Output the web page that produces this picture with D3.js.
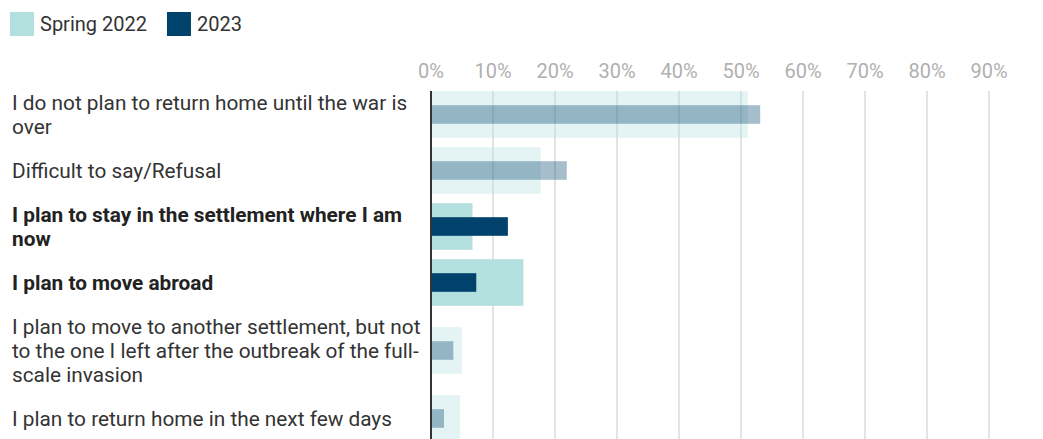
<!DOCTYPE html>
<html>
<head>
<meta charset="utf-8">
<script src="https://cdn.jsdelivr.net/npm/d3@7"></script>
<style>
  body { margin: 0; background: #fff; }
  text { font-family: Roboto, "Noto Sans", sans-serif; }
</style>
</head>
<body>
<svg id="chart" width="1043" height="439"></svg>
<script>
// answers, one entry per row (line breaks as in the original layout)
const categories = [
  "I do not plan to return home until the war is\nover",
  "Difficult to say/Refusal",
  "I plan to stay in the settlement where I am\nnow",
  "I plan to move abroad",
  "I plan to move to another settlement, but not\nto the one I left after the outbreak of the full-\nscale invasion",
  "I plan to return home in the next few days"
];
const spring2022 = [51.1, 17.7, 6.7, 14.9, 5.0, 4.7];
const year2023 = [53.1, 21.9, 12.4, 7.3, 3.6, 2.1];
const highlighted = [false, false, true, true, false, false];
const tickValues = [0, 10, 20, 30, 40, 50, 60, 70, 80, 90];
const seriesNames = ["Spring 2022", "2023"];
const seriesColors = ["#b3dfdf", "#00426b"];

const width = 1043, height = 439;
const svg = d3.select("#chart");

// row layout: each row as tall as its label or the bar block
const lineH = 24, blockH = 47, gap = 8.5, top0 = 90.5;
const centers = [];
let cur = top0;
categories.forEach(c => {
  const h = Math.max(blockH, c.split("\n").length * lineH);
  centers.push(cur + h / 2);
  cur += h + gap;
});

const x = d3.scaleLinear().domain([0, 100]).range([431, 1051]);
const y = d3.scaleOrdinal().domain(categories).range(centers);
const color = d3.scaleOrdinal().domain(seriesNames).range(seriesColors);

// legend
const legend = svg.append("g");
let lx = 10;
seriesNames.forEach(name => {
  legend.append("rect").attr("x", lx).attr("y", 12).attr("width", 24).attr("height", 24)
    .attr("fill", color(name));
  const t = legend.append("text").attr("x", lx + 30).attr("y", 31)
    .attr("font-size", 20).attr("fill", "#333").text(name);
  lx += 30 + t.node().getComputedTextLength() + 20;
});

// gridlines + tick labels
const gridTop = 91;
svg.append("g").selectAll("line").data(tickValues.slice(1)).join("line")
  .attr("x1", d => x(d)).attr("x2", d => x(d))
  .attr("y1", gridTop).attr("y2", height)
  .attr("stroke", "#e3e3e3").attr("stroke-width", 2);

svg.append("g").selectAll("text").data(tickValues).join("text")
  .attr("x", d => x(d)).attr("y", 78)
  .attr("text-anchor", "middle").attr("font-size", 20).attr("fill", "#b0b0b0")
  .text(d => d + "%");

// bars
const rows = categories.map((c, i) => ({ c, s: spring2022[i], v: year2023[i], hl: highlighted[i] }));
const bars = svg.append("g");
bars.selectAll("rect.spring").data(rows).join("rect").attr("class", "spring")
  .attr("x", x(0)).attr("y", d => y(d.c) - 23.3)
  .attr("width", d => x(d.s) - x(0)).attr("height", 46.6)
  .attr("fill", color(seriesNames[0])).attr("opacity", d => d.hl ? 1 : 0.35);
bars.selectAll("rect.y2023").data(rows).join("rect").attr("class", "y2023")
  .attr("x", x(0)).attr("y", d => y(d.c) - 9.3)
  .attr("width", d => x(d.v) - x(0)).attr("height", 18.6)
  .attr("fill", color(seriesNames[1])).attr("opacity", d => d.hl ? 1 : 0.35);

// baseline
svg.append("line").attr("x1", x(0)).attr("x2", x(0)).attr("y1", gridTop).attr("y2", height)
  .attr("stroke", "#333").attr("stroke-width", 2);

// row labels
const labels = svg.append("g").selectAll("text").data(rows).join("text")
  .attr("font-size", 20.8)
  .attr("font-weight", d => d.hl ? "bold" : "normal")
  .attr("fill", d => d.hl ? "#222" : "#333");
labels.each(function (d) {
  const lines = d.c.split("\n");
  const first = y(d.c) - (lines.length - 1) * lineH / 2 + 7.5;
  d3.select(this).selectAll("tspan").data(lines).join("tspan")
    .attr("x", 12).attr("y", (l, j) => first + j * lineH).text(l => l);
});
</script>
</body>
</html>
